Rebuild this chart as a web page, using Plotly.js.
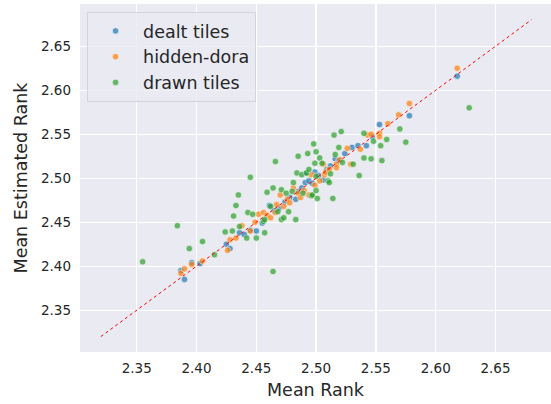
<!DOCTYPE html>
<html>
<head>
<meta charset="utf-8">
<script src="https://cdn.plot.ly/plotly-3.0.1.min.js"></script>
<style>html,body{margin:0;padding:0;background:#fff;overflow:hidden}#chart{width:551px;height:404px}</style>
</head>
<body>
<div id="chart"></div>
<script>
const seriesNames = ["dealt tiles", "hidden-dora", "drawn tiles"];
const seriesColors = ["rgb(31,119,180)", "rgb(255,127,14)", "rgb(44,160,44)"];

const dealtX = [2.387,2.390,2.396,2.403,2.425,2.428,2.436,2.440,2.445,2.450,2.455,2.461,2.465,2.469,2.474,2.478,2.483,2.485,2.488,2.491,2.492,2.494,2.497,2.499,2.502,2.506,2.509,2.512,2.516,2.519,2.524,2.530,2.535,2.542,2.547,2.553,2.578,2.618];
const dealtY = [2.395,2.385,2.404,2.403,2.425,2.420,2.438,2.436,2.441,2.440,2.449,2.469,2.463,2.466,2.473,2.478,2.476,2.485,2.489,2.495,2.506,2.497,2.494,2.507,2.503,2.498,2.510,2.514,2.522,2.520,2.528,2.535,2.537,2.537,2.547,2.561,2.571,2.616];

const doraX = [2.387,2.390,2.396,2.405,2.426,2.428,2.433,2.438,2.445,2.449,2.452,2.456,2.459,2.462,2.466,2.467,2.470,2.473,2.476,2.478,2.481,2.485,2.487,2.490,2.494,2.496,2.499,2.503,2.506,2.507,2.508,2.511,2.517,2.517,2.520,2.526,2.529,2.537,2.543,2.546,2.553,2.553,2.560,2.569,2.578,2.618];
const doraY = [2.392,2.397,2.402,2.406,2.418,2.430,2.432,2.446,2.440,2.450,2.459,2.461,2.458,2.455,2.461,2.470,2.481,2.468,2.476,2.472,2.489,2.483,2.478,2.486,2.481,2.504,2.492,2.497,2.516,2.504,2.507,2.510,2.516,2.512,2.521,2.534,2.516,2.533,2.549,2.550,2.551,2.547,2.562,2.572,2.585,2.625];

const drawnX = [2.355,2.384,2.394,2.405,2.415,2.424,2.430,2.431,2.433,2.435,2.436,2.442,2.443,2.445,2.447,2.450,2.456,2.457,2.457,2.459,2.462,2.464,2.464,2.466,2.468,2.471,2.471,2.473,2.475,2.477,2.480,2.481,2.483,2.484,2.485,2.488,2.489,2.492,2.493,2.494,2.496,2.497,2.498,2.499,2.500,2.500,2.500,2.501,2.503,2.505,2.510,2.511,2.512,2.514,2.515,2.516,2.519,2.521,2.522,2.531,2.536,2.540,2.540,2.546,2.548,2.554,2.555,2.559,2.570,2.575,2.628];
const drawnY = [2.405,2.446,2.420,2.428,2.413,2.439,2.440,2.457,2.469,2.481,2.445,2.432,2.461,2.501,2.459,2.432,2.451,2.438,2.453,2.484,2.468,2.489,2.394,2.519,2.462,2.487,2.453,2.455,2.483,2.462,2.485,2.495,2.453,2.506,2.525,2.504,2.483,2.506,2.528,2.510,2.480,2.481,2.539,2.517,2.530,2.502,2.486,2.477,2.523,2.517,2.497,2.495,2.505,2.477,2.549,2.527,2.535,2.553,2.518,2.516,2.503,2.551,2.523,2.522,2.542,2.537,2.520,2.544,2.556,2.541,2.580];

const refLine = [2.32, 2.68];

const xTicks = [2.35, 2.40, 2.45, 2.50, 2.55, 2.60, 2.65];
const yTicks = [2.35, 2.40, 2.45, 2.50, 2.55, 2.60, 2.65];

const xs = [dealtX, doraX, drawnX];
const ys = [dealtY, doraY, drawnY];

const traces = seriesNames.map((name, i) => ({
  type: "scatter", mode: "markers", name: name,
  x: xs[i], y: ys[i],
  marker: {color: seriesColors[i], size: 6.5, opacity: 0.7, line: {color: "rgba(255,255,255,0.8)", width: 0.8}}
}));
traces.push({
  type: "scatter", mode: "lines", x: refLine, y: refLine, showlegend: false,
  line: {color: "red", width: 1, dash: "dot"}, hoverinfo: "skip"
});

const fontFam = "DejaVu Sans, sans-serif";
const layout = {
  width: 551, height: 404,
  margin: {l: 80, r: 0, t: 4, b: 52},
  paper_bgcolor: "#ffffff", plot_bgcolor: "#EAEAF2",
  font: {family: fontFam, color: "#262626"},
  showlegend: true,
  legend: {
    x: 0.015, y: 0.977, xanchor: "left", yanchor: "top",
    bgcolor: "rgba(234,234,242,0.8)", bordercolor: "#d4d4dc", borderwidth: 1,
    font: {family: fontFam, size: 17.5, color: "#262626"},
    itemwidth: 45, itemsizing: "trace"
  },
  xaxis: {
    range: [2.3026, 2.6964], tickvals: xTicks, ticktext: xTicks.map(v => v.toFixed(2)),
    showgrid: true, gridcolor: "#ffffff", gridwidth: 1.3, zeroline: false, showline: false,
    ticks: "", tickfont: {size: 13.5, color: "#262626"}, ticklabelstandoff: 6,
    title: {text: "Mean Rank", font: {size: 17.5, color: "#262626"}, standoff: 9},
    automargin: false
  },
  yaxis: {
    range: [2.3025, 2.698], tickvals: yTicks, ticktext: yTicks.map(v => v.toFixed(2)),
    showgrid: true, gridcolor: "#ffffff", gridwidth: 1.3, zeroline: false, showline: false,
    ticks: "", tickfont: {size: 13.5, color: "#262626"}, ticklabelstandoff: 8,
    title: {text: "Mean Estimated Rank", font: {size: 17.5, color: "#262626"}, standoff: 8},
    automargin: false
  }
};

Plotly.newPlot("chart", traces, layout, {staticPlot: true, displayModeBar: false});
</script>
</body>
</html>
